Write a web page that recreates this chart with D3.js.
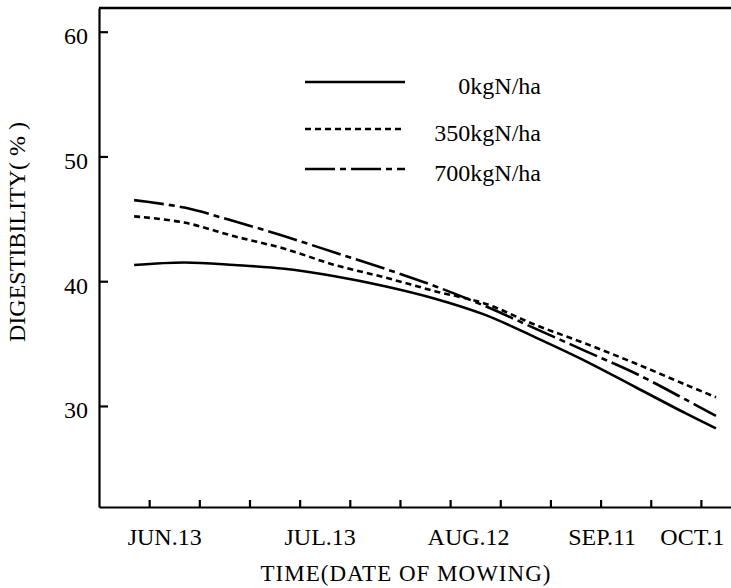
<!DOCTYPE html>
<html>
<head>
<meta charset="utf-8">
<script src="https://cdn.jsdelivr.net/npm/d3@7"></script>
<style>
body { margin: 0; background: #fff; }
text { font-family: "Liberation Serif", "DejaVu Serif", serif; fill: #000; }
</style>
</head>
<body>
<div id="chart"></div>
<script>
var parseDate = d3.timeParse("%Y-%m-%d");

var sampleDates = ["1980-06-10", "1980-06-20", "1980-06-30", "1980-07-10", "1980-07-20",
	"1980-07-30", "1980-08-09", "1980-08-19", "1980-08-29", "1980-09-08",
	"1980-09-18", "1980-09-28", "1980-10-04"];
// digestibility (%) per nitrogen level
var n0 = [41.3, 41.5, 41.3, 41.0, 40.4, 39.6, 38.6, 37.3, 35.5, 33.6, 31.5, 29.4, 28.2];
var n350 = [45.2, 44.7, 43.6, 42.6, 41.3, 40.3, 39.2, 38.2, 36.5, 35.0, 33.4, 31.7, 30.7];
var n700 = [46.5, 45.9, 44.8, 43.6, 42.3, 41.0, 39.6, 38.0, 36.2, 34.4, 32.6, 30.5, 29.2];
var seriesNames = ["0kgN/ha", "350kgN/ha", "700kgN/ha"];

// axis ticks
var tickDates = ["1980-06-13", "1980-06-23", "1980-07-03", "1980-07-13", "1980-07-23",
	"1980-08-02", "1980-08-12", "1980-08-22", "1980-09-01", "1980-09-11",
	"1980-09-21", "1980-10-01"];
var labelDates = ["1980-06-13", "1980-07-13", "1980-08-12", "1980-09-11", "1980-10-01"];
var labelTexts = ["JUN.13", "JUL.13", "AUG.12", "SEP.11", "OCT.1"];
var yTicks = [30, 40, 50, 60];

var margin = {top: 8, right: 0, bottom: 81, left: 99},
    width = 731 - margin.left - margin.right,
    height = 588 - margin.top - margin.bottom;

var svg = d3.select("#chart")
  .append("svg")
    .attr("width", 731)
    .attr("height", 588)
  .append("g")
    .attr("transform", "translate(" + margin.left + "," + margin.top + ")");

var x = d3.scaleTime()
    .domain([parseDate("1980-06-03"), parseDate("1980-10-07")])
    .range([0, width]);
var y = d3.scaleLinear()
    .domain([21.9, 61.9])
    .range([height, 0]);

// x axis, ticks pointing inward, only some of them labelled
var labelFor = {};
labelDates.forEach(function(d, i) { labelFor[d] = labelTexts[i]; });
var fmt = d3.timeFormat("%Y-%m-%d");
var labelNudge = {"JUN.13": 15, "JUL.13": 20, "AUG.12": 18, "SEP.11": 1, "OCT.1": -9};

var xAxis = svg.append("g")
    .attr("transform", "translate(0," + height + ")")
    .call(d3.axisBottom(x)
        .tickValues(tickDates.map(parseDate))
        .tickSize(-7)
        .tickSizeOuter(0)
        .tickPadding(21)
        .tickFormat(function(d) { return labelFor[fmt(d)] || ""; }));
xAxis.select(".domain").attr("stroke-width", 2.2);
xAxis.selectAll(".tick line").attr("stroke-width", 2.2);
xAxis.selectAll(".tick text")
    .attr("font-size", 24)
    .attr("dx", function() { return labelNudge[this.textContent] || 0; })
    .style("font-family", "Liberation Serif");

// y axis
var yAxis = svg.append("g")
    .call(d3.axisLeft(y)
        .tickValues(yTicks)
        .tickSize(-9)
        .tickSizeOuter(0)
        .tickPadding(11));
yAxis.select(".domain").attr("stroke-width", 2.2);
yAxis.selectAll(".tick line").attr("stroke-width", 2.2);
yAxis.selectAll(".tick text")
    .attr("font-size", 24)
    .attr("dy", "0.5em")
    .style("font-family", "Liberation Serif");

// top frame line
svg.append("line")
    .attr("x1", 0).attr("x2", width)
    .attr("y1", 0).attr("y2", 0)
    .attr("stroke", "#000")
    .attr("stroke-width", 2.5);

// curves
var dashes = ["none", "6,4", "30,5,6,5"];
var series = [n0, n350, n700];
var line = d3.line()
    .x(function(d) { return x(d.date); })
    .y(function(d) { return y(d.value); })
    .curve(d3.curveCatmullRom.alpha(0.5));

series.forEach(function(vals, i) {
	var pts = vals.map(function(v, j) { return {date: parseDate(sampleDates[j]), value: v}; });
	svg.append("path")
	    .datum(pts)
	    .attr("fill", "none")
	    .attr("stroke", "#000")
	    .attr("stroke-width", 2.6)
	    .attr("stroke-dasharray", dashes[i])
	    .attr("d", line);
});

// legend
var legendRows = [74, 121, 161];
var legend = svg.append("g");
seriesNames.forEach(function(name, i) {
	legend.append("line")
	    .attr("x1", 206).attr("x2", 306)
	    .attr("y1", legendRows[i]).attr("y2", legendRows[i])
	    .attr("stroke", "#000")
	    .attr("stroke-width", 2.6)
	    .attr("stroke-dasharray", dashes[i]);
	legend.append("text")
	    .attr("x", 442)
	    .attr("y", legendRows[i] + 12)
	    .attr("text-anchor", "end")
	    .attr("font-size", 24)
	    .text(name);
});

// axis titles
d3.select("svg").append("text")
    .attr("transform", "translate(25,232) rotate(-90)")
    .attr("text-anchor", "middle")
    .attr("font-size", 24)
    .text("DIGESTIBILITY( % )");

d3.select("svg").append("text")
    .attr("x", 406)
    .attr("y", 581)
    .attr("text-anchor", "middle")
    .attr("font-size", 23)
    .style("letter-spacing", "1px")
    .text("TIME(DATE  OF  MOWING)");
</script>
</body>
</html>
